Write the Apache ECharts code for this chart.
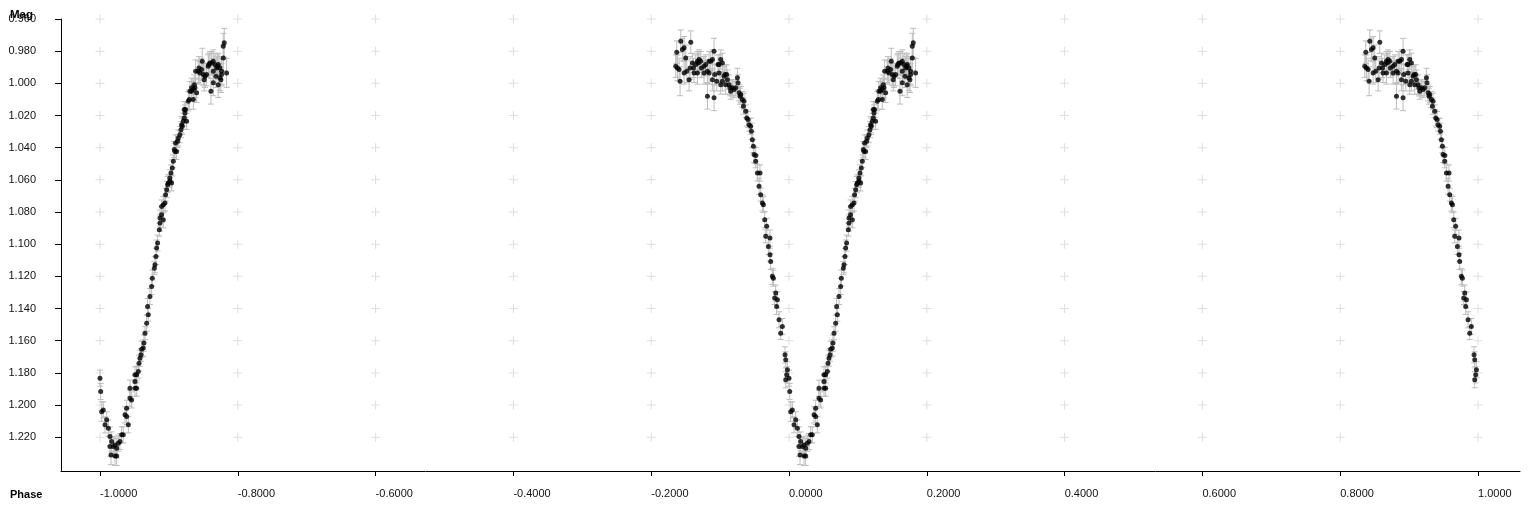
<!DOCTYPE html>
<html><head><meta charset="utf-8">
<script src="https://cdn.jsdelivr.net/npm/echarts@6/dist/echarts.min.js"></script>
<style>html,body{margin:0;padding:0;background:#fff}#c{width:1536px;height:512px}</style>
</head><body><div id="c"></div>
<script>
// ---- data ----
const xTicks = [-1.0, -0.8, -0.6, -0.4, -0.2, 0.0, 0.2, 0.4, 0.6, 0.8, 1.0];
const yTicks = [0.96, 0.98, 1.00, 1.02, 1.04, 1.06, 1.08, 1.10, 1.12, 1.14, 1.16, 1.18, 1.20, 1.22];
const foldPeriod = 1.0;

const phase = [
  -0.1644,-0.1629,-0.1620,-0.1595,-0.1581,-0.1571,-0.1547,-0.1523,-0.1523,-0.1499,
  -0.1484,-0.1450,-0.1436,-0.1426,-0.1402,-0.1387,-0.1378,-0.1354,-0.1329,-0.1329,
  -0.1315,-0.1305,-0.1281,-0.1271,-0.1233,-0.1233,-0.1209,-0.1184,-0.1184,-0.1160,
  -0.1160,-0.1136,-0.1112,-0.1112,-0.1088,-0.1088,-0.1078,-0.1049,-0.1030,-0.1015,
  -0.1015,-0.0991,-0.0991,-0.0967,-0.0967,-0.0943,-0.0928,-0.0919,-0.0904,-0.0894,
  -0.0870,-0.0856,-0.0846,-0.0822,-0.0798,-0.0773,-0.0749,-0.0740,-0.0725,-0.0711,
  -0.0701,-0.0677,-0.0662,-0.0653,-0.0628,-0.0614,-0.0595,-0.0580,-0.0556,-0.0546,
  -0.0532,-0.0517,-0.0508,-0.0483,-0.0483,-0.0459,-0.0435,-0.0421,-0.0411,-0.0387,
  -0.0372,-0.0353,-0.0338,-0.0324,-0.0300,-0.0276,-0.0276,-0.0266,-0.0242,-0.0227,
  -0.0208,-0.0193,-0.0179,-0.0169,-0.0145,-0.0121,-0.0097,-0.0058,-0.0048,-0.0048,
  -0.0034,-0.0024,
  0.0000,0.0010,0.0024,0.0048,0.0073,0.0097,0.0121,0.0145,0.0145,0.0160,
  0.0169,0.0193,0.0218,0.0218,0.0242,0.0242,0.0266,0.0290,0.0314,0.0338,
  0.0363,0.0387,0.0387,0.0411,0.0435,0.0435,0.0459,0.0508,0.0508,0.0508,
  0.0532,0.0532,0.0556,0.0566,0.0580,0.0595,0.0604,0.0628,0.0638,0.0653,
  0.0677,0.0691,0.0701,0.0725,0.0749,0.0759,0.0788,0.0798,0.0812,0.0822,
  0.0836,0.0861,0.0870,0.0870,0.0894,0.0894,0.0919,0.0919,0.0943,0.0952,
  0.0967,0.0981,0.0991,0.1015,0.1015,0.1030,0.1039,0.1049,0.1064,0.1078,
  0.1088,0.1097,0.1112,0.1126,0.1136,0.1160,0.1175,0.1184,0.1194,0.1209,
  0.1223,0.1223,0.1233,0.1242,0.1257,0.1281,0.1296,0.1305,0.1329,0.1329,
  0.1354,0.1354,0.1368,0.1378,0.1388,0.1402,0.1426,0.1436,0.1450,0.1474,
  0.1484,0.1499,0.1513,0.1523,0.1547,0.1571,0.1581,0.1595,0.1610,0.1620,
  0.1644,0.1644,0.1644,0.1668,0.1683,0.1692,0.1707,0.1716,0.1716,0.1740,
  0.1740,0.1755,0.1765,0.1765,0.1789,0.1789,0.1803,0.1837
];

const mag = [
  0.9893,0.9806,0.9904,0.9914,0.9987,0.9738,0.9790,0.9779,0.9935,0.9842,
  0.9925,0.9977,0.9904,0.9744,0.9873,0.9904,0.9935,0.9883,0.9862,0.9935,
  0.9873,0.9852,0.9862,0.9904,0.9893,0.9935,0.9883,0.9925,1.0080,0.9862,
  0.9935,0.9862,0.9852,0.9977,0.9800,1.0090,0.9945,0.9987,0.9883,0.9883,
  0.9935,0.9852,1.0008,0.9873,0.9987,0.9956,0.9945,1.0008,0.9945,0.9977,
  1.0008,1.0028,1.0049,1.0028,1.0039,1.0028,0.9966,0.9997,1.0059,1.0080,
  1.0070,1.0101,1.0142,1.0111,1.0174,1.0215,1.0225,1.0257,1.0267,1.0298,
  1.0350,1.0391,1.0443,1.0449,1.0485,1.0557,1.0640,1.0557,1.0692,1.0744,
  1.0754,1.0848,1.0951,1.0889,1.1014,1.0962,1.1065,1.1107,1.1200,1.1211,
  1.1335,1.1304,1.1387,1.1346,1.1470,1.1553,1.1512,1.1688,1.1719,1.1843,
  1.1812,1.1781,
  1.1833,1.1916,1.2041,1.2030,1.2123,1.2092,1.2144,1.2196,1.2258,1.2310,
  1.2227,1.2258,1.2248,1.2316,1.2268,1.2316,1.2237,1.2227,1.2185,1.2185,
  1.2061,1.2071,1.2020,1.2123,1.1958,1.1895,1.1968,1.1895,1.1854,1.1812,
  1.1895,1.1812,1.1792,1.1740,1.1709,1.1688,1.1653,1.1646,1.1615,1.1553,
  1.1491,1.1387,1.1439,1.1325,1.1263,1.1211,1.1149,1.1128,1.1076,1.1024,
  1.0993,1.0910,1.0868,1.0837,1.0817,1.0765,1.0848,1.0754,1.0744,1.0692,
  1.0661,1.0630,1.0619,1.0609,1.0588,1.0557,1.0619,1.0526,1.0485,1.0412,
  1.0423,1.0371,1.0423,1.0360,1.0340,1.0319,1.0288,1.0257,1.0267,1.0236,
  1.0215,1.0163,1.0184,1.0163,1.0236,1.0111,1.0101,1.0049,1.0049,1.0028,
  1.0039,1.0101,1.0008,1.0028,0.9925,1.0059,0.9925,0.9904,0.9935,0.9914,
  0.9862,0.9945,0.9977,0.9956,0.9945,0.9893,0.9883,0.9873,1.0049,0.9873,
  0.9862,0.9925,0.9997,0.9883,0.9956,0.9904,0.9893,0.9883,1.0008,0.9904,
  0.9966,0.9977,0.9925,0.9945,0.9842,0.9769,0.9748,0.9935
];

const magErr = [
  0.007,0.007,0.008,0.007,0.009,0.007,0.007,0.007,0.007,0.008,
  0.007,0.007,0.007,0.007,0.006,0.006,0.006,0.006,0.006,0.007,
  0.006,0.006,0.006,0.006,0.006,0.007,0.006,0.007,0.008,0.006,
  0.007,0.006,0.006,0.007,0.008,0.008,0.006,0.006,0.006,0.006,
  0.006,0.006,0.006,0.006,0.006,0.006,0.006,0.006,0.006,0.006,
  0.006,0.005,0.005,0.005,0.005,0.005,0.006,0.005,0.005,0.005,
  0.005,0.005,0.005,0.005,0.004,0.005,0.005,0.004,0.005,0.005,
  0.005,0.004,0.005,0.005,0.004,0.005,0.005,0.005,0.004,0.005,
  0.005,0.005,0.004,0.005,0.005,0.005,0.004,0.005,0.005,0.005,
  0.004,0.005,0.005,0.005,0.005,0.004,0.005,0.005,0.005,0.005,
  0.005,0.005,
  0.005,0.005,0.006,0.005,0.005,0.005,0.005,0.006,0.006,0.006,
  0.006,0.006,0.005,0.006,0.006,0.006,0.005,0.005,0.005,0.005,
  0.005,0.005,0.005,0.005,0.005,0.005,0.005,0.005,0.004,0.005,
  0.005,0.005,0.004,0.005,0.005,0.004,0.005,0.005,0.005,0.004,
  0.005,0.005,0.004,0.005,0.005,0.005,0.004,0.005,0.005,0.005,
  0.005,0.004,0.005,0.005,0.005,0.004,0.005,0.005,0.005,0.004,
  0.005,0.005,0.005,0.004,0.005,0.005,0.005,0.005,0.004,0.005,
  0.005,0.005,0.005,0.004,0.005,0.005,0.005,0.005,0.005,0.005,
  0.005,0.005,0.005,0.005,0.005,0.006,0.006,0.006,0.006,0.006,
  0.006,0.006,0.006,0.006,0.007,0.006,0.007,0.007,0.007,0.007,
  0.008,0.007,0.007,0.007,0.007,0.007,0.007,0.007,0.008,0.007,
  0.007,0.008,0.008,0.007,0.007,0.007,0.007,0.007,0.008,0.007,
  0.008,0.008,0.008,0.007,0.008,0.008,0.009,0.009
];

// ---- build folded points: original phases plus one copy shifted by a period ----
const pts = [];
for (let i = 0; i < phase.length; i++) {
  pts.push([phase[i], mag[i], magErr[i]]);
  const shifted = phase[i] < 0 ? phase[i] + foldPeriod : phase[i] - foldPeriod;
  pts.push([shifted, mag[i], magErr[i]]);
}
const crosses = [];
xTicks.forEach(x => yTicks.forEach(y => crosses.push([x, y])));

const FONT = '"Liberation Sans", Arial, sans-serif';
const chart = echarts.init(document.getElementById('c'), null, {renderer: 'canvas'});
chart.setOption({
  animation: false,
  backgroundColor: '#fff',
  grid: {left: 61, right: 16, top: 19, bottom: 41, containLabel: false},
  xAxis: {
    type: 'value', min: -1.0566, max: 1.0609,
    axisLine: {show: true, onZero: false, lineStyle: {color: '#000', width: 1}},
    axisTick: {show: true, customValues: xTicks, length: 5, lineStyle: {color: '#000'}},
    axisLabel: {show: true, customValues: xTicks, formatter: v => v.toFixed(4), align: 'left',
      margin: 17, color: '#111', fontSize: 11, fontFamily: FONT},
    splitLine: {show: false}
  },
  yAxis: {
    type: 'value', inverse: true, min: 0.96, max: 1.241,
    axisLine: {show: true, onZero: false, lineStyle: {color: '#000', width: 1}},
    axisTick: {show: true, customValues: yTicks, length: 6, lineStyle: {color: '#000'}},
    axisLabel: {show: true, customValues: yTicks, formatter: v => v.toFixed(3),
      margin: 25, color: '#111', fontSize: 11, fontFamily: FONT},
    splitLine: {show: false}
  },
  graphic: [
    {type: 'text', left: 10, top: 9, style: {text: 'Mag', font: 'bold 11.5px ' + FONT, fill: '#000'}},
    {type: 'text', left: 10, top: 489, style: {text: 'Phase', font: 'bold 11px ' + FONT, fill: '#000'}}
  ],
  series: [
    {
      type: 'scatter', data: crosses, z: 1, silent: true,
      symbol: 'path://M4,0h1v9h-1z M0,4h9v1h-9z', symbolSize: 9,
      itemStyle: {color: '#d6d6d6'}
    },
    {
      type: 'custom', data: pts, z: 2, silent: true,
      encode: {x: 0, y: 1},
      renderItem: function (params, api) {
        const x = api.value(0), y = api.value(1), e = api.value(2);
        const a = api.coord([x, y - e]);
        const b = api.coord([x, y + e]);
        const hw = 3;
        const st = {stroke: '#bdbdbd', lineWidth: 1};
        return {type: 'group', children: [
          {type: 'line', shape: {x1: a[0], y1: a[1], x2: b[0], y2: b[1]}, style: st},
          {type: 'line', shape: {x1: a[0] - hw, y1: a[1], x2: a[0] + hw, y2: a[1]}, style: st},
          {type: 'line', shape: {x1: b[0] - hw, y1: b[1], x2: b[0] + hw, y2: b[1]}, style: st}
        ]};
      }
    },
    {
      type: 'scatter', data: pts.map(p => [p[0], p[1]]), z: 3, silent: true,
      symbol: 'circle', symbolSize: 5,
      itemStyle: {color: '#000'}
    }
  ]
});
</script>
</body></html>
